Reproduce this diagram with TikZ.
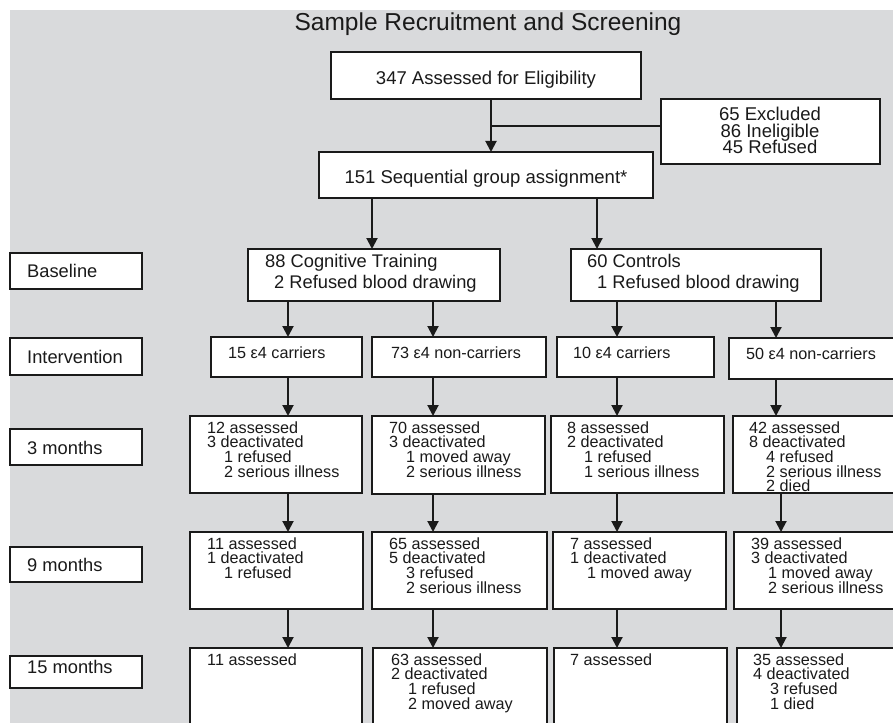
\documentclass[tikz,border=0pt]{standalone}
\usepackage{fontspec}
\setmainfont{Liberation Sans}
\usetikzlibrary{arrows.meta}
\lineskiplimit=-100pt
\definecolor{bg}{HTML}{D9DADC}
\definecolor{ink}{HTML}{1A1A1A}
\newcommand{\subi}{\hspace*{17pt}}
\newcommand{\smallfs}{\fontsize{16.2}{14.7}\selectfont}
\newcommand{\bigfs}{\fontsize{18.5}{16.5}\selectfont}
\newcommand{\grpfs}{\fontsize{18.3}{21}\selectfont}
\begin{document}
\begin{tikzpicture}[x=1pt,y=-1pt,
  box/.style={draw=ink, line width=1.8pt, fill=white, inner sep=0pt, outer sep=0pt},
  lbl/.style={inner sep=0pt, anchor=base west, text=ink, font=\grpfs},
  txt/.style={inner sep=0pt, anchor=north west, align=left, text=ink, font=\smallfs},
  one/.style={inner sep=0pt, anchor=base west, text=ink, font=\smallfs},
  arr/.style={draw=ink, line width=2pt, -{Triangle[width=11pt,length=11pt]}},
  ln/.style={draw=ink, line width=2pt}]
\useasboundingbox (0,0) rectangle (893,722);
\clip (0,0) rectangle (893,722);
\fill[white] (0,0) rectangle (893,722);
\fill[bg] (10,10) rectangle (900,730);

% title
\node[inner sep=0pt, anchor=base, text=ink, font=\fontsize{24.5}{28}\selectfont] (title) at (488,30.5) {Sample Recruitment and Screening};

% top boxes
\node[box, minimum width=310pt, minimum height=47pt] (b347) at (486,75.5) {};
\node[inner sep=0pt, anchor=base, text=ink, font=\bigfs] (t347) at (486,84.6) {347 Assessed for Eligibility};
\node[box, minimum width=219pt, minimum height=65pt] (excl) at (770.5,131.5) {};
\node[inner sep=0pt, anchor=north, align=center, text=ink, font=\bigfs] (texcl) at (770,106.6) {\rule{0pt}{14pt}65 Excluded\\86 Ineligible\\45 Refused};
\node[box, minimum width=334pt, minimum height=46pt] (b151) at (486,175) {};
\node[inner sep=0pt, anchor=base, text=ink, font=\bigfs] (t151) at (486,183.6) {151 Sequential group assignment*};

% group boxes
\node[box, minimum width=252pt, minimum height=52pt] (cog) at (374,275) {};
\node[inner sep=0pt, anchor=north west, align=left, text=ink, font=\grpfs] (tcog) at (265,253.6) {\rule{0pt}{14pt}88 Cognitive Training\\\hspace*{9pt}2 Refused blood drawing};
\node[box, minimum width=250pt, minimum height=52pt] (ctrl) at (696,275) {};
\node[inner sep=0pt, anchor=north west, align=left, text=ink, font=\grpfs] (tctrl) at (587,253.6) {\rule{0pt}{14pt}60 Controls\\\hspace*{10pt}1 Refused blood drawing};

% row labels
\node[box, minimum width=132pt, minimum height=36pt] (lbase) at (76,271) {};
\node[lbl] (tlbase) at (27,277.6) {Baseline};
\node[box, minimum width=132pt, minimum height=37pt] (lint) at (76,356.5) {};
\node[lbl] (tlint) at (27,363) {Intervention};
\node[box, minimum width=132pt, minimum height=36pt] (l3) at (76,447) {};
\node[lbl] (tl3) at (27,454.2) {3 months};
\node[box, minimum width=132pt, minimum height=35pt] (l9) at (76,564.5) {};
\node[lbl] (tl9) at (27,571.2) {9 months};
\node[box, minimum width=132pt, minimum height=32pt] (l15) at (76,672) {};
\node[lbl] (tl15) at (27,673.5) {15 months};

% intervention row
\node[box, minimum width=151pt, minimum height=40pt] (i1) at (286.5,357) {};
\node[one] (ti1) at (228,358.8) {15 ε4 carriers};
\node[box, minimum width=174pt, minimum height=40pt] (i2) at (459,357) {};
\node[one] (ti2) at (391,358.8) {73 ε4 non-carriers};
\node[box, minimum width=157pt, minimum height=40pt] (i3) at (635.5,357) {};
\node[one] (ti3) at (573,358.8) {10 ε4 carriers};
\node[box, minimum width=181pt, minimum height=41pt] (i4) at (819.5,358.5) {};
\node[one] (ti4) at (746,359.5) {50 ε4 non-carriers};

% 3 months
\node[box, minimum width=172pt, minimum height=77pt] (m3a) at (276,454.5) {};
\node[txt] (tm3a) at (207,420.8) {\rule{0pt}{12pt}12 assessed\\3 deactivated\\\subi1 refused\\\subi2 serious illness};
\node[box, minimum width=173pt, minimum height=78pt] (m3b) at (458.5,455) {};
\node[txt] (tm3b) at (389,420.8) {\rule{0pt}{12pt}70 assessed\\3 deactivated\\\subi1 moved away\\\subi2 serious illness};
\node[box, minimum width=173pt, minimum height=77pt] (m3c) at (637.5,454.5) {};
\node[txt] (tm3c) at (567,420.8) {\rule{0pt}{12pt}8 assessed\\2 deactivated\\\subi1 refused\\\subi1 serious illness};
\node[box, minimum width=177pt, minimum height=77pt] (m3d) at (821.5,454.5) {};
\node[txt] (tm3d) at (749,420.8) {\rule{0pt}{12pt}42 assessed\\8 deactivated\\\subi4 refused\\\subi2 serious illness\\\subi2 died};

% 9 months
\node[box, minimum width=173pt, minimum height=77pt] (m9a) at (276.5,570.5) {};
\node[txt] (tm9a) at (207,536.8) {\rule{0pt}{12pt}11 assessed\\1 deactivated\\\subi1 refused};
\node[box, minimum width=175pt, minimum height=77pt] (m9b) at (459.5,570.5) {};
\node[txt] (tm9b) at (389,536.8) {\rule{0pt}{12pt}65 assessed\\5 deactivated\\\subi3 refused\\\subi2 serious illness};
\node[box, minimum width=173pt, minimum height=77pt] (m9c) at (639.5,570.5) {};
\node[txt] (tm9c) at (570,536.8) {\rule{0pt}{12pt}7 assessed\\1 deactivated\\\subi1 moved away};
\node[box, minimum width=176pt, minimum height=77pt] (m9d) at (822,570.5) {};
\node[txt] (tm9d) at (751,536.8) {\rule{0pt}{12pt}39 assessed\\3 deactivated\\\subi1 moved away\\\subi2 serious illness};

% 15 months
\node[box, minimum width=172pt, minimum height=92pt] (m15a) at (276,694) {};
\node[txt] (tm15a) at (207,652.8) {\rule{0pt}{12pt}11 assessed};
\node[box, minimum width=174pt, minimum height=92pt] (m15b) at (460,694) {};
\node[txt] (tm15b) at (391,652.8) {\rule{0pt}{12pt}63 assessed\\2 deactivated\\\subi1 refused\\\subi2 moved away};
\node[box, minimum width=173pt, minimum height=92pt] (m15c) at (640.5,694) {};
\node[txt] (tm15c) at (570,652.8) {\rule{0pt}{12pt}7 assessed};
\node[box, minimum width=173pt, minimum height=92pt] (m15d) at (823.5,694) {};
\node[txt] (tm15d) at (753,652.8) {\rule{0pt}{12pt}35 assessed\\4 deactivated\\\subi3 refused\\\subi1 died};

% connector columns
\coordinate (k0) at (491,0);
\coordinate (kc) at (372,0);
\coordinate (kk) at (597,0);
\coordinate (c1) at (288,0);
\coordinate (c2) at (433,0);
\coordinate (c3) at (617,0);
\coordinate (c4) at (776,0);
\coordinate (c5) at (781,0);
\coordinate (jn) at (491,126);

\draw[arr] (b347.south -| k0) -- (b151.north -| k0);
\draw[ln] (jn) -- (jn -| excl.west);
\draw[arr] (b151.south -| kc) -- (cog.north -| kc);
\draw[arr] (b151.south -| kk) -- (ctrl.north -| kk);

\draw[arr] (cog.south -| c1) -- (i1.north -| c1);
\draw[arr] (cog.south -| c2) -- (i2.north -| c2);
\draw[arr] (ctrl.south -| c3) -- (i3.north -| c3);
\draw[arr] (ctrl.south -| c4) -- (i4.north -| c4);

\draw[arr] (i1.south -| c1) -- (m3a.north -| c1);
\draw[arr] (i2.south -| c2) -- (m3b.north -| c2);
\draw[arr] (i3.south -| c3) -- (m3c.north -| c3);
\draw[arr] (i4.south -| c4) -- (m3d.north -| c4);

\draw[arr] (m3a.south -| c1) -- (m9a.north -| c1);
\draw[arr] (m3b.south -| c2) -- (m9b.north -| c2);
\draw[arr] (m3c.south -| c3) -- (m9c.north -| c3);
\draw[arr] (m3d.south -| c5) -- (m9d.north -| c5);

\draw[arr] (m9a.south -| c1) -- (m15a.north -| c1);
\draw[arr] (m9b.south -| c2) -- (m15b.north -| c2);
\draw[arr] (m9c.south -| c3) -- (m15c.north -| c3);
\draw[arr] (m9d.south -| c5) -- (m15d.north -| c5);
\end{tikzpicture}
\end{document}
